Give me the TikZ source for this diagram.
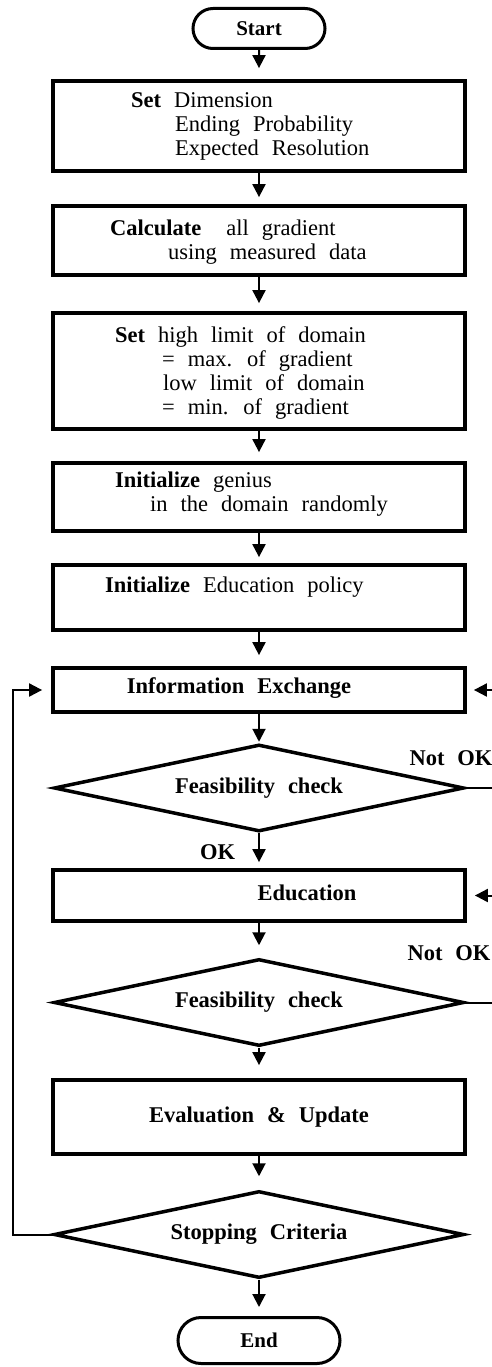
\documentclass[tikz,border=0pt]{standalone}
\usepackage{fontspec}
\setmainfont{Liberation Serif}
\usetikzlibrary{shapes,arrows.meta,positioning}
\tikzstyle{block} = [draw, rectangle, line width=3.8pt, minimum width=412pt, inner sep=0pt]
\tikzstyle{decision} = [draw, diamond, aspect=4.7, line width=3.5pt, minimum width=410pt, minimum height=87pt, inner sep=0pt]
\tikzstyle{terminal} = [draw, rounded rectangle, line width=3pt, inner sep=0pt, font={\fontsize{21}{24}\selectfont\bfseries}]
\tikzstyle{txt} = [align=left, anchor=west, inner sep=0pt]
\tikzstyle{flow} = [line width=2pt]
\tikzstyle{arr} = [flow, ->, shorten >=8pt]

\begin{document}
\begin{tikzpicture}[x=1pt,y=-1pt,>={Triangle[width=13pt,length=13pt]},font={\fontsize{22.5}{24}\selectfont\spaceskip=13pt\relax}]
    \useasboundingbox (0,0) rectangle (492,1367);
    \clip (0,0) rectangle (492,1367);

    \node [terminal, minimum width=132pt, minimum height=40pt] (start) at (259,28.5) {Start};
    \node [block, minimum height=90pt] (dim) at (259,126) {};
    \node [txt] (dimtxt) at (131,126) {\textbf{Set}\ Dimension\\\hspace*{44pt}Ending Probability\\\hspace*{44pt}Expected Resolution};
    \node [block, minimum height=69pt] (grad) at (259,240.5) {};
    \node [txt] (gradtxt) at (110,242) {\textbf{Calculate}\hspace{25pt}all gradient\\\hspace*{58pt}using measured data};
    \node [block, minimum height=116pt] (domain) at (259,371) {};
    \node [txt] (domaintxt) at (115,373) {\textbf{Set} high limit of domain\\\hspace*{47pt}= max. of gradient\\\hspace*{48pt}low limit of domain\\\hspace*{47pt}= min. of gradient};
    \node [block, minimum height=68pt] (genius) at (259,497) {};
    \node [txt] (geniustxt) at (115,494.5) {\textbf{Initialize} genius\\\hspace*{35pt}in the domain randomly};
    \node [block, minimum height=65pt] (policy) at (259,597.5) {};
    \node [txt] (policytxt) at (105,587) {\textbf{Initialize} Education policy};
    \node [block, minimum height=44pt] (info) at (259,690) {};
    \node [txt, anchor=center] (infotxt) at (239,688) {\textbf{Information Exchange}};
    \node [decision] (feas1) at (259,788) {\textbf{Feasibility check}};
    \node [block, minimum height=51pt] (edu) at (259,895.5) {};
    \node [txt, anchor=center] (edutxt) at (307,893) {\textbf{Education}};
    \node [decision] (feas2) at (259,1002.5) {\textbf{Feasibility check}};
    \node [block, minimum height=74pt] (eval) at (259,1117) {\textbf{Evaluation \& Update}};
    \node [decision] (stop) at (259,1234.5) {\textbf{Stopping Criteria}};
    \node [terminal, minimum width=162pt, minimum height=46pt] (end) at (259,1340.5) {End};

    \node (notok1) at (451,758) {\textbf{Not OK}};
    \node (notok2) at (449,953) {\textbf{Not OK}};
    \node (ok) at (217.5,852) {\textbf{OK}};

    % loop-back columns
    \coordinate (left) at (13,0);
    \coordinate (right) at (498,0);

    \draw [arr, shorten >=11pt] (start) -- (dim);
    \draw [arr, shorten >=7pt] (dim) -- (grad);
    \draw [arr] (grad) -- (domain);
    \draw [arr, shorten >=9pt] (domain) -- (genius);
    \draw [arr, shorten >=6pt] (genius) -- (policy);
    \draw [arr, shorten >=11pt] (policy) -- (info);
    \draw [arr, shorten >=1pt] (info) -- (feas1);
    \draw [arr, shorten >=6pt] (feas1) -- (edu);
    \draw [arr, shorten >=12pt] (edu) -- (feas2);
    \draw [arr, shorten >=13pt] (feas2) -- (eval);
    \draw [arr, shorten >=13pt] (eval) -- (stop);
    \draw [arr, shorten >=9pt] (stop) -- (end);

    \draw [arr, shorten >=9pt] (stop.west) -- (stop.west -| left) |- (info.west);
    \draw [arr, shorten >=7pt] (feas1.east) -- (feas1.east -| right) |- (info.east);
    \draw [arr] (feas2.east) -- (feas2.east -| right) |- (edu.east);
\end{tikzpicture}
\end{document}
